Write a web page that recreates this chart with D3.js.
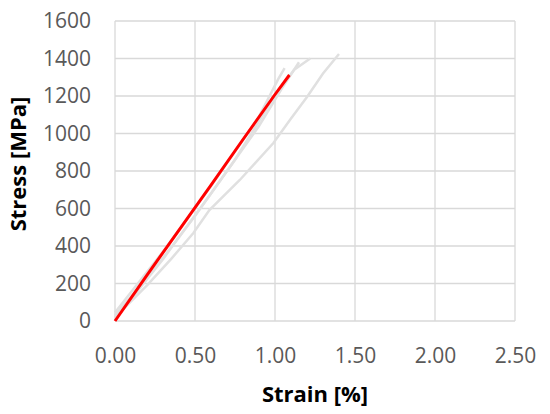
<!DOCTYPE html>
<html>
<head>
<meta charset="utf-8">
<script src="https://cdn.jsdelivr.net/npm/d3@7"></script>
<style>
  body { margin: 0; background: #fff; }
  text { font-family: "Open Sans", sans-serif; }
</style>
</head>
<body>
<script>
// tick values
var xTicks = [0, 0.5, 1.0, 1.5, 2.0, 2.5]
var yTicks = [0, 200, 400, 600, 800, 1000, 1200, 1400, 1600]

// grey test curves [strain %, stress MPa]
var grey1 = [[0, 20], [0.2, 190], [0.35, 330], [0.49, 469], [0.59, 592], [0.78, 752], [0.99, 949], [1.1, 1080], [1.2, 1195], [1.3, 1320], [1.4, 1424]]
var grey2 = [[0, 30], [0.25, 280], [0.5, 560], [0.75, 860], [0.99, 1190], [1.12, 1340], [1.22, 1400]]
var grey3 = [[0, 45], [0.3, 370], [0.6, 720], [0.9, 1090], [1.02, 1290], [1.06, 1349]]
var grey4 = [[0, 10], [0.3, 330], [0.6, 680], [0.9, 1040], [1.05, 1250], [1.15, 1380]]
// red curve
var red = [[0, 0], [0.2, 245], [0.4, 485], [0.6, 725], [0.8, 968], [1.0, 1208], [1.09, 1312]]

var width = 550
var height = 414
var margin = {top: 21, right: 35, bottom: 93, left: 115}

var svg = d3.select("body").append("svg")
    .attr("width", width)
    .attr("height", height)

var x = d3.scaleLinear().domain([0, 2.5]).range([margin.left, width - margin.right])
var y = d3.scaleLinear().domain([0, 1600]).range([height - margin.bottom, margin.top])

// gridlines
svg.append("g")
  .selectAll("line")
  .data(yTicks)
  .enter().append("line")
  .attr("x1", x(0)).attr("x2", x(2.5))
  .attr("y1", d => y(d)).attr("y2", d => y(d))
  .style("stroke", "#d9d9d9").style("stroke-width", 1.3)

svg.append("g")
  .selectAll("line")
  .data(xTicks)
  .enter().append("line")
  .attr("x1", d => x(d)).attr("x2", d => x(d))
  .attr("y1", y(0)).attr("y2", y(1600))
  .style("stroke", "#d9d9d9").style("stroke-width", 1.3)

// axes, labels only
var xAxis = d3.axisBottom(x).tickValues(xTicks).tickFormat(d3.format(".2f")).tickSize(0).tickPadding(27)
var yAxis = d3.axisLeft(y).tickValues(yTicks).tickFormat(d3.format("d")).tickSize(0).tickPadding(24)

var gx = svg.append("g").attr("transform", `translate(0,${y(0)})`).call(xAxis)
var gy = svg.append("g").attr("transform", `translate(${x(0)},0)`).call(yAxis)
gx.select(".domain").remove()
gy.select(".domain").remove()
svg.selectAll(".tick text")
  .style("font-family", "Open Sans, sans-serif")
  .style("font-size", "21px")
  .style("fill", "#595959")

var line = d3.line().x(d => x(d[0])).y(d => y(d[1]))

svg.append("g")
  .selectAll("path")
  .data([grey1, grey2, grey3, grey4])
  .enter().append("path")
  .attr("d", line)
  .style("fill", "none")
  .style("stroke", "#e0e0e0")
  .style("stroke-width", 2.5)

svg.append("path")
  .datum(red)
  .attr("d", line)
  .style("fill", "none")
  .style("stroke", "#ff0000")
  .style("stroke-width", 3)

// axis titles
svg.append("text")
  .attr("x", (x(0) + x(2.5)) / 2)
  .attr("y", 402)
  .style("text-anchor", "middle")
  .style("font-size", "22px")
  .style("font-weight", "bold")
  .style("fill", "#000")
  .text("Strain [%]")

svg.append("text")
  .attr("transform", "translate(26,164) rotate(-90)")
  .style("text-anchor", "middle")
  .style("font-size", "22px")
  .style("font-weight", "bold")
  .style("fill", "#000")
  .text("Stress [MPa]")
</script>
</body>
</html>
